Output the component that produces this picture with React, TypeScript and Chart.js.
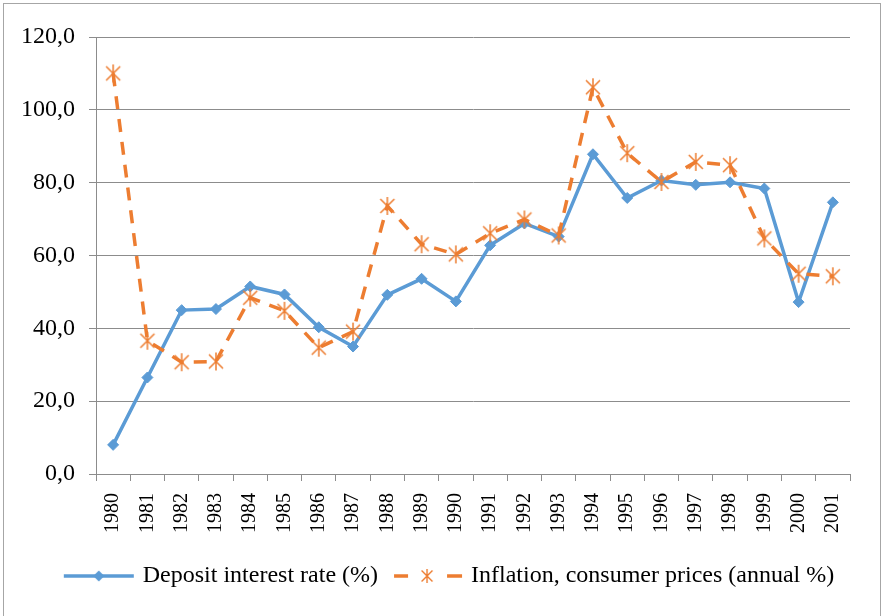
import React, { useEffect, useRef } from "react";
import { Chart, registerables } from "chart.js";

Chart.register(...registerables);

const years = ["1980","1981","1982","1983","1984","1985","1986","1987","1988","1989","1990","1991","1992","1993","1994","1995","1996","1997","1998","1999","2000","2001"];
const depositRate = [8.0,26.5,45.0,45.3,51.5,49.3,40.3,35.0,49.2,53.6,47.4,62.8,68.8,65.2,87.8,75.8,80.6,79.4,80.1,78.4,47.2,74.6];
const inflation = [110.0,36.6,30.7,30.9,48.4,44.8,34.7,39.1,73.6,63.1,60.3,66.1,69.9,65.5,106.2,88.1,80.2,85.7,84.8,64.7,55.0,54.3];
const yTicks = [0,20,40,60,80,100,120];
const seriesNames = ["Deposit interest rate (%)", "Inflation, consumer prices (annual %)"];

const BLUE = "#5B9BD5";
const ORANGE = "#ED7D31";
const FONT = "'Liberation Serif', 'Times New Roman', serif";

function starCanvas(size: number, lw: number): HTMLCanvasElement {
  const c = document.createElement("canvas");
  c.width = size; c.height = size;
  const ctx = c.getContext("2d")!;
  ctx.strokeStyle = ORANGE;
  ctx.lineWidth = lw;
  const m = size / 2;
  const r = size / 2 - 1;
  ctx.beginPath();
  ctx.moveTo(m, m - r); ctx.lineTo(m, m + r);
  const d = r * 0.78;
  ctx.moveTo(m - d, m - d); ctx.lineTo(m + d, m + d);
  ctx.moveTo(m + d, m - d); ctx.lineTo(m - d, m + d);
  ctx.stroke();
  return c;
}

function legendBlue(): HTMLCanvasElement {
  const c = document.createElement("canvas");
  c.width = 72; c.height = 20;
  const ctx = c.getContext("2d")!;
  ctx.strokeStyle = BLUE; ctx.lineWidth = 3.5;
  ctx.beginPath(); ctx.moveTo(1, 10); ctx.lineTo(71, 10); ctx.stroke();
  ctx.fillStyle = BLUE;
  ctx.beginPath();
  ctx.moveTo(36, 4.5); ctx.lineTo(41.5, 10); ctx.lineTo(36, 15.5); ctx.lineTo(30.5, 10); ctx.closePath();
  ctx.fill();
  return c;
}

function legendOrange(): HTMLCanvasElement {
  const c = document.createElement("canvas");
  c.width = 72; c.height = 20;
  const ctx = c.getContext("2d")!;
  ctx.strokeStyle = ORANGE; ctx.lineWidth = 3.5;
  ctx.beginPath();
  ctx.moveTo(3, 10); ctx.lineTo(17, 10);
  ctx.moveTo(56, 10); ctx.lineTo(71, 10);
  ctx.stroke();
  const s = starCanvas(16, 1.4);
  ctx.drawImage(s, 36 - 8, 10 - 8);
  return c;
}

const legendShift = {
  id: "legendShift",
  afterLayout(chart: any) {
    if (chart.legend) {
      chart.legend.left += 22;
      chart.legend.right += 22;
    }
  },
};

export default function App() {
  const ref = useRef<HTMLCanvasElement | null>(null);
  useEffect(() => {
    if (!ref.current) return;
    const star = starCanvas(20, 1.5);
    const lb = legendBlue();
    const lo = legendOrange();
    const chart = new Chart(ref.current, {
      type: "line",
      plugins: [legendShift],
      data: {
        labels: years,
        datasets: [
          {
            label: seriesNames[0],
            data: depositRate,
            borderColor: BLUE,
            backgroundColor: BLUE,
            borderWidth: 3.5,
            pointStyle: "rectRot",
            pointRadius: 5.5,
            pointBorderWidth: 1,
            pointBackgroundColor: BLUE,
            pointBorderColor: BLUE,
            tension: 0,
            order: 1,
          },
          {
            label: seriesNames[1],
            data: inflation,
            borderColor: ORANGE,
            backgroundColor: ORANGE,
            borderWidth: 3.5,
            borderDash: [13, 10],
            borderCapStyle: "butt",
            pointStyle: star as any,
            pointRadius: 10,
            tension: 0,
            order: 0,
          },
        ],
      },
      options: {
        animation: false,
        responsive: false,
        maintainAspectRatio: false,
        layout: { padding: { left: 7, right: 33, top: 37, bottom: 18 } },
        scales: {
          x: {
            type: "category",
            offset: true,
            grid: { offset: true, drawOnChartArea: false, drawTicks: true, tickLength: 7, color: "#8c8c8c" },
            border: { color: "#8c8c8c", width: 1 },
            ticks: {
              autoSkip: false,
              minRotation: 90,
              maxRotation: 90,
              padding: 12,
              color: "#000",
              font: { family: FONT, size: 20 },
            },
            afterFit: (s: any) => { s.height += 2; },
          },
          y: {
            min: 0,
            max: 120,
            afterBuildTicks: (s: any) => { s.ticks = yTicks.map((v) => ({ value: v })); },
            grid: { color: "#8c8c8c", tickLength: 7, lineWidth: 1 },
            border: { color: "#8c8c8c", width: 1 },
            ticks: {
              padding: 14,
              color: "#000",
              font: { family: FONT, size: 24 },
              callback: (v: any) => Number(v).toFixed(1).replace(".", ","),
            },
          },
        },
        plugins: {
          tooltip: { enabled: false },
          legend: {
            position: "bottom",
            labels: {
              usePointStyle: true,
              pointStyleWidth: 64,
              padding: 17,
              color: "#000",
              font: { family: FONT, size: 24 },
              generateLabels: () => [
                { text: seriesNames[0], pointStyle: lb as any, datasetIndex: 0, hidden: false, fontColor: "#000", lineWidth: 0, strokeStyle: BLUE, fillStyle: BLUE },
                { text: seriesNames[1], pointStyle: lo as any, datasetIndex: 1, hidden: false, fontColor: "#000", lineWidth: 0, strokeStyle: ORANGE, fillStyle: ORANGE },
              ],
            },
          },
        },
      },
    });
    return () => chart.destroy();
  }, []);
  return (
    <div style={{ position: "fixed", left: 0, top: 0, width: 883, height: 616, background: "#fff", overflow: "hidden" }}>
      <div style={{ position: "absolute", left: 3, top: 3, width: 876, height: 640, border: "1px solid #a6a6a6" }} />
      <canvas ref={ref} width={883} height={616} style={{ position: "absolute", left: 0, top: 0, width: 883, height: 616 }} />
    </div>
  );
}
